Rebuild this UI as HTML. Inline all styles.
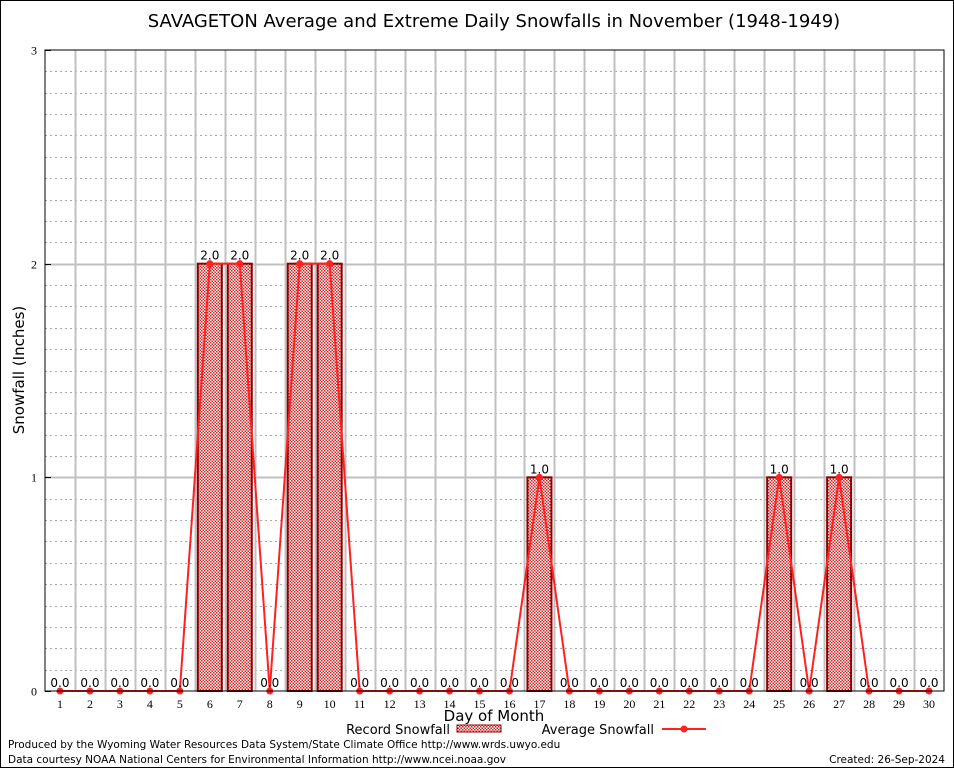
<!DOCTYPE html>
<html><head><meta charset="utf-8"><style>
body{margin:0;background:#fff;}
svg{display:block;font-family:"DejaVu Sans","Liberation Sans",sans-serif;}
</style></head><body>
<svg id="chart" width="954" height="768">
<defs>
<pattern id="chk" width="3" height="3" patternUnits="userSpaceOnUse">
<rect width="3" height="3" fill="#fff"/><rect width="1.5" height="1.5" fill="#d02020"/><rect x="1.5" y="1.5" width="1.5" height="1.5" fill="#d02020"/>
</pattern>
</defs>
<rect x="0.5" y="0.5" width="953" height="767" fill="#fff" stroke="#000"/>
<text x="494" y="27" font-size="18" text-anchor="middle">SAVAGETON Average and Extreme Daily Snowfalls in November (1948-1949)</text>
<g id="grid"></g>
<g id="bars"></g>
<g id="line"></g>
<g id="labels"></g>
<rect x="45" y="50" width="899" height="641" fill="none" stroke="#000" stroke-width="1"/>
<text transform="translate(24,370) rotate(-90)" font-size="15" text-anchor="middle">Snowfall (Inches)</text>
<text x="494" y="721" font-size="15" text-anchor="middle">Day of Month</text>
<g>
<text x="450" y="734" font-size="13" text-anchor="end">Record Snowfall</text>
<rect x="457" y="725" width="44" height="7" fill="url(#chk)" stroke="#8b0000"/>
<text x="654" y="734" font-size="13" text-anchor="end">Average Snowfall</text>
<line x1="662" y1="729" x2="706" y2="729" stroke="#ff2020" stroke-width="2"/>
<circle cx="684" cy="729" r="3.5" fill="#ff2020"/>
</g>
<text x="8" y="748" font-size="10.5">Produced by the Wyoming Water Resources Data System/State Climate Office http://www.wrds.uwyo.edu</text>
<text x="8" y="763" font-size="10.5">Data courtesy NOAA National Centers for Environmental Information http://www.ncei.noaa.gov</text>
<text x="945" y="763" font-size="10.5" text-anchor="end">Created:  26-Sep-2024</text>
</svg>
<script>
const days=[1,2,3,4,5,6,7,8,9,10,11,12,13,14,15,16,17,18,19,20,21,22,23,24,25,26,27,28,29,30];
const recordVals=[0,0,0,0,0,2,2,0,2,2,0,0,0,0,0,0,1,0,0,0,0,0,0,0,1,0,1,0,0,0];
const avgVals=[0,0,0,0,0,2,2,0,2,2,0,0,0,0,0,0,1,0,0,0,0,0,0,0,1,0,1,0,0,0];
const yTicks=[0,1,2,3];
const NS='http://www.w3.org/2000/svg';
const L=45,R=944,T=50,B=691,yMax=3;
const slot=(R-L)/days.length;
const x=d=>L+(d-0.5)*slot;
const y=v=>B-v/yMax*(B-T);
function mk(tag,attrs,parent){const e=document.createElementNS(NS,tag);for(const k in attrs)e.setAttribute(k,attrs[k]);document.getElementById(parent).appendChild(e);return e;}
for(let i=1;i<yMax*10;i++){if(i%10===0)continue;const yy=Math.round(y(i/10))+0.5;
const e=mk('line',{x1:L,x2:R,y1:yy,y2:yy,stroke:'#aaa','stroke-dasharray':'2,3','stroke-width':1},'grid');

}
for(let i=1;i<days.length;i++){const xx=Math.round(L+i*slot)+0.5;
const e=mk('line',{x1:xx,x2:xx,y1:T,y2:B,stroke:'#c0c0c0','stroke-width':2},'grid');

}
yTicks.forEach(t=>{const yy=Math.round(y(t))+0.5;
if(t>0&&t<yMax){const g=mk('line',{x1:L,x2:R,y1:yy,y2:yy,stroke:'#c0c0c0','stroke-width':2},'grid');

}
const tk=mk('line',{x1:L,x2:L+6,y1:yy,y2:yy,stroke:'#000'},'grid');


const tl=mk('text',{x:L-8,y:yy+4,'font-size':12,'text-anchor':'end','font-family':'Liberation Serif, serif'},'grid');tl.textContent=t;

});
days.forEach((d,i)=>{
const xl=mk('text',{x:x(d),y:708,'font-size':12,'text-anchor':'middle','font-family':'Liberation Serif, serif'},'grid');xl.textContent=d;


const v=recordVals[i];
if(v>0){const b=mk('rect',{x:x(d)-12,y:y(v),width:24,height:y(0)-y(v),fill:'url(#chk)',stroke:'#8b0000','stroke-width':2},'bars');

}
const lb=mk('text',{x:x(d),y:y(v)-4,'font-size':12,'text-anchor':'middle'},'labels');lb.textContent=v.toFixed(1);


});
const pts=days.map((d,i)=>x(d)+','+y(avgVals[i])).join(' ');
const pl=mk('polyline',{points:pts,fill:'none',stroke:'#ff2020','stroke-width':2},'line');


days.forEach((d,i)=>{const c=mk('circle',{cx:x(d),cy:y(avgVals[i]),r:3.5,fill:'#ff2020'},'line');

});
</script>
</body></html>
